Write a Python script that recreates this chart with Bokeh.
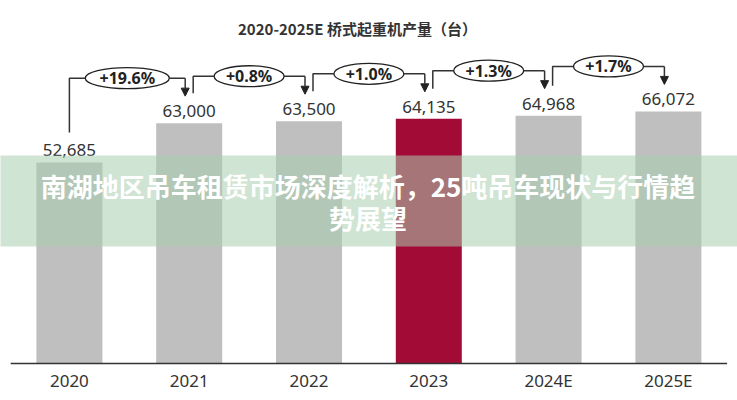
import numpy as np
from bokeh.plotting import figure
from bokeh.models import ColumnDataSource, Range1d, Arrow, NormalHead
from bokeh.core.properties import value
from bokeh.embed import file_html
from bokeh.resources import INLINE

# ---------------- data ----------------
title_text = "2020-2025E 桥式起重机产量（台）"
years = ["2020", "2021", "2022", "2023", "2024E", "2025E"]
output = [52685, 63000, 63500, 64135, 64968, 66072]
value_labels = ["52,685", "63,000", "63,500", "64,135", "64,968", "66,072"]
growth = ["+19.6%", "+0.8%", "+1.0%", "+1.3%", "+1.7%"]
highlight = "2023"
banner_lines = ["南湖地区吊车租赁市场深度解析，25吨吊车现状与行情趋", "势展望"]

# ---------------- geometry (pixels) ----------------
W, H = 737, 400
step_px = 119.8          # distance between bar centres
x0_px = 68.9             # centre of the first bar from the left edge
base_px = 363            # baseline from the top
unit_per_px = 262.1      # data units per vertical pixel

x_start = -x0_px / step_px
x_end = x_start + W / step_px
y_start = -(H - base_px) * unit_per_px
y_end = base_px * unit_per_px
DX = 1.0 / step_px
PX = unit_per_px


def fy(py):
    return (base_px - py) * unit_per_px


def fx(px):
    return x_start + px * DX


CJK = "Noto Sans CJK SC"
LAT = "Noto Sans"
DARK = "#333333"

p = figure(width=W, height=H, x_range=Range1d(x_start, x_end),
           y_range=Range1d(y_start, y_end), output_backend="svg",
           toolbar_location=None, x_axis_type=None, y_axis_type=None,
           min_border=0, outline_line_color=None)
p.grid.visible = False
p.background_fill_color = "white"
p.border_fill_color = "white"

idx = list(range(len(years)))
colors = ["#A30B37" if y == highlight else "#BFBFBF" for y in years]

# bars
p.vbar(x=idx, top=output, width=66 * DX, bottom=0, fill_color=colors,
       line_color=None)

# baseline
p.line(x=[-0.49, len(years) - 1 + 0.49], y=[0, 0], line_color=DARK,
       line_width=1.5)

# value labels
p.text(x=idx, y=output, text=value_labels, y_offset=-12,
       text_align="center", text_baseline="middle",
       text_font=value(LAT), text_font_size="17px", text_color=DARK)

# category labels
p.text(x=idx, y=[fy(380)] * len(years), text=years, text_align="center",
       text_baseline="middle", text_font=value(LAT), text_font_size="17px",
       text_color=DARK)

# growth brackets
bx, by, ax0, ay0, ax1, ay1, ex, ey, ew = [], [], [], [], [], [], [], [], []
for i, g in enumerate(growth):
    top = max(output[i], output[i + 1]) + 45 * PX
    xl = i + (0 if i == 0 else 4 * DX)
    yl = output[i] + 30 * PX
    xr = (i + 1) - 4 * DX
    tip = output[i + 1] + 27 * PX
    bx.append([xl, xl, xr])
    by.append([yl, top, top])
    ax0.append(xr)
    ay0.append(top)
    ax1.append(xr)
    ay1.append(tip)
    ex.append((xl + xr) / 2)
    ey.append(top)
    ew.append(14 * len(g))

p.multi_line(xs=bx, ys=by, line_color=DARK, line_width=1.5)
arrow_src = ColumnDataSource(dict(x0=ax0, y0=ay0, x1=ax1, y1=ay1))
p.add_layout(Arrow(x_start="x0", y_start="y0", x_end="x1", y_end="y1",
                   source=arrow_src, line_color=DARK, line_width=1.5,
                   end=NormalHead(size=8, fill_color="#222222",
                                  line_color="#222222", line_width=1)))
p.ellipse(x=ex, y=ey, width=ew, height=[21] * len(ew), width_units="screen",
          height_units="screen", fill_color="white", line_color="#222222",
          line_width=1.3)
p.text(x=ex, y=ey, text=growth, text_align="center", text_baseline="middle",
       text_font=value(LAT), text_font_size="16px", text_font_style="bold",
       text_color="#222222")

# title
p.text(x=[fx(357)], y=[fy(28)], text=[title_text], text_align="center",
       text_baseline="middle", text_font=value(CJK), text_font_size="15px",
       text_font_style="bold", text_color=DARK)

# banner overlay
p.quad(left=[x_start - 1], right=[x_end + 1], bottom=[fy(246)], top=[fy(155)],
       fill_color=(168, 206, 175), fill_alpha=0.55, line_alpha=0)
p.text(x=[fx(367.5)] * 2, y=[fy(185), fy(217)], text=banner_lines,
       text_align="center", text_baseline="middle", text_font=value(CJK),
       text_font_size="26px", text_font_style="bold", text_color="white")

open("out.html", "w").write(file_html(p, INLINE))
